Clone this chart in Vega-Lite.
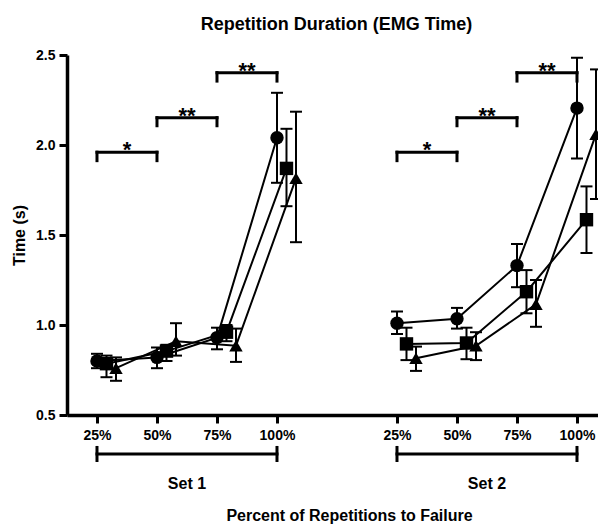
{
  "$schema": "https://vega.github.io/schema/vega-lite/v6.json",
  "width": 531,
  "height": 360,
  "autosize": {"type": "none"},
  "padding": {"left": 67, "top": 55, "right": 0, "bottom": 110},
  "background": "white",
  "config": {
    "font": "Liberation Sans",
    "view": {"stroke": null},
    "axis": {"grid": false, "domainColor": "black", "tickColor": "black", "labelColor": "black", "titleColor": "black", "labelFont": "Liberation Sans", "titleFont": "Liberation Sans", "labelFontWeight": "bold", "titleFontWeight": "bold", "labelFontSize": 14, "titleFontSize": 16, "domainWidth": 3.5, "tickWidth": 3, "tickSize": 8},
    "axisX": {"labelAngle": 0, "labelPadding": 5, "titleX": 282, "titleY": 105, "titleBaseline": "alphabetic", "titleAlign": "center", "titleAnchor": null, "labelOverlap": false},
    "axisY": {"labelPadding": 4, "titlePadding": 8}
  },
  "title": {"text": "Repetition Duration (EMG Time)", "fontSize": 18, "fontWeight": "bold", "font": "Liberation Sans", "color": "black", "anchor": "middle", "offset": 0, "baseline": "alphabetic", "dx": 4},
  "datasets": {
    "points": [
      {"set": "Set 1", "cat": "S1 25%", "series": "circle", "mean": 0.80, "lo": 0.76, "hi": 0.84},
      {"set": "Set 1", "cat": "S1 50%", "series": "circle", "mean": 0.82, "lo": 0.76, "hi": 0.875},
      {"set": "Set 1", "cat": "S1 75%", "series": "circle", "mean": 0.93, "lo": 0.865, "hi": 0.985},
      {"set": "Set 1", "cat": "S1 100%", "series": "circle", "mean": 2.04, "lo": 1.79, "hi": 2.29},
      {"set": "Set 1", "cat": "S1 25%", "series": "square", "mean": 0.785, "lo": 0.71, "hi": 0.83},
      {"set": "Set 1", "cat": "S1 50%", "series": "square", "mean": 0.855, "lo": 0.80, "hi": 0.89},
      {"set": "Set 1", "cat": "S1 75%", "series": "square", "mean": 0.96, "lo": 0.91, "hi": 1.00},
      {"set": "Set 1", "cat": "S1 100%", "series": "square", "mean": 1.87, "lo": 1.66, "hi": 2.09},
      {"set": "Set 1", "cat": "S1 25%", "series": "triangle", "mean": 0.76, "lo": 0.69, "hi": 0.82},
      {"set": "Set 1", "cat": "S1 50%", "series": "triangle", "mean": 0.91, "lo": 0.83, "hi": 1.01},
      {"set": "Set 1", "cat": "S1 75%", "series": "triangle", "mean": 0.885, "lo": 0.795, "hi": 0.98},
      {"set": "Set 1", "cat": "S1 100%", "series": "triangle", "mean": 1.815, "lo": 1.46, "hi": 2.185},
      {"set": "Set 2", "cat": "S2 25%", "series": "circle", "mean": 1.01, "lo": 0.95, "hi": 1.075},
      {"set": "Set 2", "cat": "S2 50%", "series": "circle", "mean": 1.035, "lo": 0.98, "hi": 1.095},
      {"set": "Set 2", "cat": "S2 75%", "series": "circle", "mean": 1.33, "lo": 1.21, "hi": 1.45},
      {"set": "Set 2", "cat": "S2 100%", "series": "circle", "mean": 2.205, "lo": 1.925, "hi": 2.485},
      {"set": "Set 2", "cat": "S2 25%", "series": "square", "mean": 0.895, "lo": 0.805, "hi": 0.985},
      {"set": "Set 2", "cat": "S2 50%", "series": "square", "mean": 0.90, "lo": 0.81, "hi": 0.985},
      {"set": "Set 2", "cat": "S2 75%", "series": "square", "mean": 1.185, "lo": 1.065, "hi": 1.305},
      {"set": "Set 2", "cat": "S2 100%", "series": "square", "mean": 1.585, "lo": 1.40, "hi": 1.77},
      {"set": "Set 2", "cat": "S2 25%", "series": "triangle", "mean": 0.815, "lo": 0.745, "hi": 0.88},
      {"set": "Set 2", "cat": "S2 50%", "series": "triangle", "mean": 0.885, "lo": 0.805, "hi": 0.96},
      {"set": "Set 2", "cat": "S2 75%", "series": "triangle", "mean": 1.115, "lo": 0.99, "hi": 1.25},
      {"set": "Set 2", "cat": "S2 100%", "series": "triangle", "mean": 2.06, "lo": 1.70, "hi": 2.42}
    ],
    "brackets": [
      {"from": "S1 25%", "to": "S1 50%", "mid": "S1 25-50", "level": 1.96, "low": 1.913, "label": "*"},
      {"from": "S1 50%", "to": "S1 75%", "mid": "S1 50-75", "level": 2.152, "low": 2.107, "label": "**"},
      {"from": "S1 75%", "to": "S1 100%", "mid": "S1 75-100", "level": 2.402, "low": 2.355, "label": "**"},
      {"from": "S2 25%", "to": "S2 50%", "mid": "S2 25-50", "level": 1.96, "low": 1.913, "label": "*"},
      {"from": "S2 50%", "to": "S2 75%", "mid": "S2 50-75", "level": 2.152, "low": 2.107, "label": "**"},
      {"from": "S2 75%", "to": "S2 100%", "mid": "S2 75-100", "level": 2.402, "low": 2.355, "label": "**"}
    ],
    "sets": [
      {"from": "S1 25%", "to": "S1 100%", "mid": "S1 50-75", "level": 0.283, "low": 0.239, "high": 0.328, "labely": 0.089, "label": "Set 1"},
      {"from": "S2 25%", "to": "S2 100%", "mid": "S2 50-75", "level": 0.283, "low": 0.239, "high": 0.328, "labely": 0.089, "label": "Set 2"}
    ]
  },
  "layer": [
    {
      "data": {"name": "points"},
      "mark": {"type": "line", "color": "black", "strokeWidth": 2},
      "encoding": {
        "x": {"field": "cat", "type": "nominal", "title": "Percent of Repetitions to Failure",
              "sort": ["S1 25%","S1 25-50","S1 50%","S1 50-75","S1 75%","S1 75-100","S1 100%","g1","g2","g3","S2 25%","S2 25-50","S2 50%","S2 50-75","S2 75%","S2 75-100","S2 100%"],
              "scale": {"type": "point", "domain": ["S1 25%","S1 25-50","S1 50%","S1 50-75","S1 75%","S1 75-100","S1 100%","g1","g2","g3","S2 25%","S2 25-50","S2 50%","S2 50-75","S2 75%","S2 75-100","S2 100%"], "padding": 0.85, "align": 0.588},
              "axis": {"values": ["S1 25%","S1 50%","S1 75%","S1 100%","S2 25%","S2 50%","S2 75%","S2 100%"], "labelExpr": "substring(datum.value, 3)"}},
        "xOffset": {"field": "series", "type": "nominal", "scale": {"type": "point", "domain": ["circle","square","triangle"], "range": [0, 19], "padding": 0}},
        "y": {"field": "mean", "type": "quantitative", "title": "Time (s)", "scale": {"domain": [0.5, 2.5], "nice": false, "zero": false}, "axis": {"values": [0.5, 1, 1.5, 2, 2.5], "format": ".1f"}},
        "detail": [{"field": "set"}, {"field": "series"}]
      }
    },
    {
      "data": {"name": "points"},
      "mark": {"type": "rule", "color": "black", "strokeWidth": 2},
      "encoding": {
        "x": {"field": "cat", "type": "nominal", "title": "Percent of Repetitions to Failure", "scale": {"type": "point", "domain": ["S1 25%","S1 25-50","S1 50%","S1 50-75","S1 75%","S1 75-100","S1 100%","g1","g2","g3","S2 25%","S2 25-50","S2 50%","S2 50-75","S2 75%","S2 75-100","S2 100%"], "padding": 0.85, "align": 0.588}},
        "xOffset": {"field": "series", "type": "nominal", "scale": {"type": "point", "domain": ["circle","square","triangle"], "range": [0, 19], "padding": 0}},
        "y": {"field": "lo", "type": "quantitative", "title": "Time (s)", "scale": {"domain": [0.5, 2.5], "nice": false, "zero": false}},
        "y2": {"field": "hi"}
      }
    },
    {
      "data": {"name": "points"},
      "mark": {"type": "tick", "orient": "horizontal", "color": "black", "size": 12, "thickness": 2, "opacity": 1},
      "encoding": {
        "x": {"field": "cat", "type": "nominal", "title": "Percent of Repetitions to Failure", "scale": {"type": "point", "domain": ["S1 25%","S1 25-50","S1 50%","S1 50-75","S1 75%","S1 75-100","S1 100%","g1","g2","g3","S2 25%","S2 25-50","S2 50%","S2 50-75","S2 75%","S2 75-100","S2 100%"], "padding": 0.85, "align": 0.588}},
        "xOffset": {"field": "series", "type": "nominal", "scale": {"type": "point", "domain": ["circle","square","triangle"], "range": [0, 19], "padding": 0}},
        "y": {"field": "lo", "type": "quantitative", "title": "Time (s)", "scale": {"domain": [0.5, 2.5], "nice": false, "zero": false}}
      }
    },
    {
      "data": {"name": "points"},
      "mark": {"type": "tick", "orient": "horizontal", "color": "black", "size": 12, "thickness": 2, "opacity": 1},
      "encoding": {
        "x": {"field": "cat", "type": "nominal", "title": "Percent of Repetitions to Failure", "scale": {"type": "point", "domain": ["S1 25%","S1 25-50","S1 50%","S1 50-75","S1 75%","S1 75-100","S1 100%","g1","g2","g3","S2 25%","S2 25-50","S2 50%","S2 50-75","S2 75%","S2 75-100","S2 100%"], "padding": 0.85, "align": 0.588}},
        "xOffset": {"field": "series", "type": "nominal", "scale": {"type": "point", "domain": ["circle","square","triangle"], "range": [0, 19], "padding": 0}},
        "y": {"field": "hi", "type": "quantitative", "title": "Time (s)", "scale": {"domain": [0.5, 2.5], "nice": false, "zero": false}}
      }
    },
    {
      "data": {"name": "points"},
      "mark": {"type": "point", "filled": true, "color": "black", "opacity": 1, "size": 180},
      "encoding": {
        "x": {"field": "cat", "type": "nominal", "title": "Percent of Repetitions to Failure", "scale": {"type": "point", "domain": ["S1 25%","S1 25-50","S1 50%","S1 50-75","S1 75%","S1 75-100","S1 100%","g1","g2","g3","S2 25%","S2 25-50","S2 50%","S2 50-75","S2 75%","S2 75-100","S2 100%"], "padding": 0.85, "align": 0.588}},
        "xOffset": {"field": "series", "type": "nominal", "scale": {"type": "point", "domain": ["circle","square","triangle"], "range": [0, 19], "padding": 0}},
        "y": {"field": "mean", "type": "quantitative", "title": "Time (s)", "scale": {"domain": [0.5, 2.5], "nice": false, "zero": false}},
        "shape": {"field": "series", "type": "nominal", "scale": {"domain": ["circle","square","triangle"], "range": ["circle","square","triangle-up"]}, "legend": null}
      }
    },
    {
      "data": {"name": "brackets"},
      "mark": {"type": "rule", "color": "black", "strokeWidth": 3, "strokeCap": "square"},
      "encoding": {
        "x": {"field": "from", "type": "nominal", "title": "Percent of Repetitions to Failure", "scale": {"type": "point", "domain": ["S1 25%","S1 25-50","S1 50%","S1 50-75","S1 75%","S1 75-100","S1 100%","g1","g2","g3","S2 25%","S2 25-50","S2 50%","S2 50-75","S2 75%","S2 75-100","S2 100%"], "padding": 0.85, "align": 0.588}},
        "x2": {"field": "to"},
        "y": {"field": "level", "type": "quantitative", "title": "Time (s)", "scale": {"domain": [0.5, 2.5], "nice": false, "zero": false}}
      }
    },
    {
      "data": {"name": "brackets"},
      "mark": {"type": "rule", "color": "black", "strokeWidth": 3, "strokeCap": "square"},
      "encoding": {
        "x": {"field": "from", "type": "nominal", "title": "Percent of Repetitions to Failure", "scale": {"type": "point", "domain": ["S1 25%","S1 25-50","S1 50%","S1 50-75","S1 75%","S1 75-100","S1 100%","g1","g2","g3","S2 25%","S2 25-50","S2 50%","S2 50-75","S2 75%","S2 75-100","S2 100%"], "padding": 0.85, "align": 0.588}},
        "y": {"field": "level", "type": "quantitative", "title": "Time (s)", "scale": {"domain": [0.5, 2.5], "nice": false, "zero": false}},
        "y2": {"field": "low"}
      }
    },
    {
      "data": {"name": "brackets"},
      "mark": {"type": "rule", "color": "black", "strokeWidth": 3, "strokeCap": "square"},
      "encoding": {
        "x": {"field": "to", "type": "nominal", "title": "Percent of Repetitions to Failure", "scale": {"type": "point", "domain": ["S1 25%","S1 25-50","S1 50%","S1 50-75","S1 75%","S1 75-100","S1 100%","g1","g2","g3","S2 25%","S2 25-50","S2 50%","S2 50-75","S2 75%","S2 75-100","S2 100%"], "padding": 0.85, "align": 0.588}},
        "y": {"field": "level", "type": "quantitative", "title": "Time (s)", "scale": {"domain": [0.5, 2.5], "nice": false, "zero": false}},
        "y2": {"field": "low"}
      }
    },
    {
      "data": {"name": "brackets"},
      "mark": {"type": "text", "color": "black", "fontSize": 22, "fontWeight": "bold", "font": "Liberation Sans", "baseline": "alphabetic", "align": "center", "dy": 5},
      "encoding": {
        "x": {"field": "mid", "type": "nominal", "title": "Percent of Repetitions to Failure", "scale": {"type": "point", "domain": ["S1 25%","S1 25-50","S1 50%","S1 50-75","S1 75%","S1 75-100","S1 100%","g1","g2","g3","S2 25%","S2 25-50","S2 50%","S2 50-75","S2 75%","S2 75-100","S2 100%"], "padding": 0.85, "align": 0.588}},
        "y": {"field": "level", "type": "quantitative", "title": "Time (s)", "scale": {"domain": [0.5, 2.5], "nice": false, "zero": false}},
        "text": {"field": "label"}
      }
    },
    {
      "data": {"name": "sets"},
      "mark": {"type": "rule", "color": "black", "strokeWidth": 3, "strokeCap": "square"},
      "encoding": {
        "x": {"field": "from", "type": "nominal", "title": "Percent of Repetitions to Failure", "scale": {"type": "point", "domain": ["S1 25%","S1 25-50","S1 50%","S1 50-75","S1 75%","S1 75-100","S1 100%","g1","g2","g3","S2 25%","S2 25-50","S2 50%","S2 50-75","S2 75%","S2 75-100","S2 100%"], "padding": 0.85, "align": 0.588}},
        "x2": {"field": "to"},
        "y": {"field": "level", "type": "quantitative", "title": "Time (s)", "scale": {"domain": [0.5, 2.5], "nice": false, "zero": false}}
      }
    },
    {
      "data": {"name": "sets"},
      "mark": {"type": "rule", "color": "black", "strokeWidth": 3},
      "encoding": {
        "x": {"field": "from", "type": "nominal", "title": "Percent of Repetitions to Failure", "scale": {"type": "point", "domain": ["S1 25%","S1 25-50","S1 50%","S1 50-75","S1 75%","S1 75-100","S1 100%","g1","g2","g3","S2 25%","S2 25-50","S2 50%","S2 50-75","S2 75%","S2 75-100","S2 100%"], "padding": 0.85, "align": 0.588}},
        "y": {"field": "high", "type": "quantitative", "title": "Time (s)", "scale": {"domain": [0.5, 2.5], "nice": false, "zero": false}},
        "y2": {"field": "low"}
      }
    },
    {
      "data": {"name": "sets"},
      "mark": {"type": "rule", "color": "black", "strokeWidth": 3},
      "encoding": {
        "x": {"field": "to", "type": "nominal", "title": "Percent of Repetitions to Failure", "scale": {"type": "point", "domain": ["S1 25%","S1 25-50","S1 50%","S1 50-75","S1 75%","S1 75-100","S1 100%","g1","g2","g3","S2 25%","S2 25-50","S2 50%","S2 50-75","S2 75%","S2 75-100","S2 100%"], "padding": 0.85, "align": 0.588}},
        "y": {"field": "high", "type": "quantitative", "title": "Time (s)", "scale": {"domain": [0.5, 2.5], "nice": false, "zero": false}},
        "y2": {"field": "low"}
      }
    },
    {
      "data": {"name": "sets"},
      "mark": {"type": "text", "color": "black", "fontSize": 16, "fontWeight": "bold", "font": "Liberation Sans", "baseline": "alphabetic", "align": "center"},
      "encoding": {
        "x": {"field": "mid", "type": "nominal", "title": "Percent of Repetitions to Failure", "scale": {"type": "point", "domain": ["S1 25%","S1 25-50","S1 50%","S1 50-75","S1 75%","S1 75-100","S1 100%","g1","g2","g3","S2 25%","S2 25-50","S2 50%","S2 50-75","S2 75%","S2 75-100","S2 100%"], "padding": 0.85, "align": 0.588}},
        "y": {"field": "labely", "type": "quantitative", "title": "Time (s)", "scale": {"domain": [0.5, 2.5], "nice": false, "zero": false}},
        "text": {"field": "label"}
      }
    }
  ]
}
